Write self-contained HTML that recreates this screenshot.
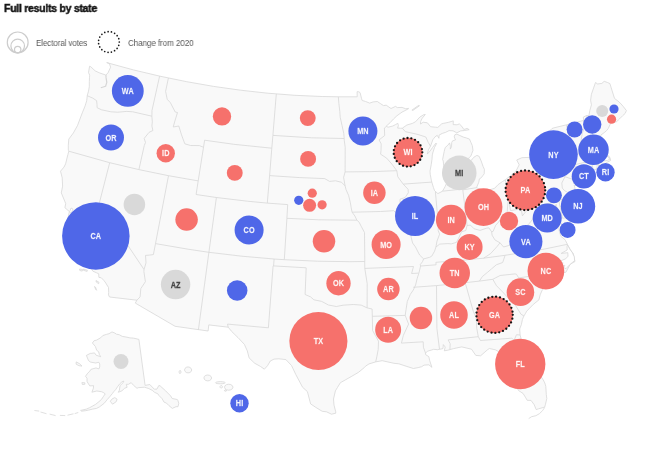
<!DOCTYPE html>
<html><head><meta charset="utf-8"><style>
html,body{margin:0;padding:0;background:#fff;}
body{width:650px;height:456px;position:relative;overflow:hidden;font-family:"Liberation Sans",sans-serif;}
#t{position:absolute;left:3.5px;top:1.2px;font-weight:bold;font-size:11.8px;color:#141414;white-space:nowrap;letter-spacing:-0.3px;transform-origin:0 0;transform:scaleX(0.89);line-height:15px;-webkit-text-stroke:0.45px #141414;will-change:transform}
.lg{position:absolute;font-size:9.4px;color:#5a5a5a;white-space:nowrap;line-height:11px;letter-spacing:-0.15px;transform-origin:0 0;will-change:transform}
svg{position:absolute;left:0;top:0;will-change:transform}
.lb{font-family:"Liberation Sans",sans-serif;font-weight:bold;font-size:8.7px;text-anchor:middle;letter-spacing:0.1px;stroke:currentColor;stroke-width:0.25px}
</style></head><body>
<div id="t">Full results by state</div>
<svg width="650" height="456" viewBox="0 0 650 456">
<g fill="none" stroke="#cdcdcd" stroke-width="1.2">
<circle cx="17.7" cy="42.4" r="10.4"/>
<circle cx="17.7" cy="46" r="6.8"/>
<circle cx="17.7" cy="49.6" r="3.2"/>
</g>
<circle cx="108.9" cy="42" r="10.4" fill="none" stroke="#1a1a1a" stroke-width="1.7" stroke-linecap="round" stroke-dasharray="0 3.42"/>
<path d="M106.7 62.6L133.4 69.9L160.0 76.2L186.7 81.7L213.6 86.4L240.6 90.2L267.7 93.2L294.9 95.3L322.2 96.5L338.3 96.8L357.2 96.8L357.1 91.7L358.9 91.8L360.1 92.7L361.5 98.4L362.2 100.5L365.4 101.4L369.6 103.1L373.2 101.9L377.3 101.5L380.6 103.7L383.5 105.6L386.2 105.2L391.0 108.5L395.5 106.4L397.4 107.6L402.0 107.4L405.8 108.8L408.5 108.3L408.6 108.7L405.0 110.6L402.0 112.1L396.9 115.8L393.6 118.9L390.1 122.7L386.2 126.2L388.1 127.2L392.8 126.0L395.5 124.6L397.8 123.3L398.4 125.6L397.6 128.1L400.5 128.2L402.3 128.2L406.9 125.0L412.4 123.4L415.6 121.7L419.9 117.0L423.9 114.6L425.3 114.5L422.3 118.1L420.7 121.3L420.5 124.0L423.2 122.2L427.4 122.8L430.6 126.7L435.4 127.2L437.8 127.4L441.7 123.8L443.8 123.3L448.2 122.4L453.3 120.9L453.2 124.6L457.1 124.8L459.3 123.9L461.8 126.3L463.9 129.5L467.1 128.4L469.2 129.7L464.5 130.5L460.7 130.9L456.8 132.8L453.0 130.8L449.1 130.6L445.5 132.4L442.3 133.4L439.1 135.1L438.9 138.3L437.2 135.3L435.0 136.9L432.8 139.8L430.5 146.2L428.4 149.9L427.3 154.1L430.0 151.1L432.6 147.4L436.0 143.0L436.6 143.6L434.5 147.5L432.8 152.9L432.3 154.9L432.0 159.2L431.2 164.8L430.0 171.1L430.3 174.8L431.5 180.9L431.8 182.1L433.4 187.4L434.6 190.7L437.9 193.6L442.5 191.2L445.3 186.2L447.1 181.9L447.3 176.6L446.4 173.0L445.4 170.6L443.7 165.6L443.2 160.9L442.6 159.5L444.2 151.4L445.2 147.5L447.9 145.2L449.6 142.9L450.4 146.3L450.3 149.1L451.5 146.8L451.7 142.7L452.5 140.9L455.5 139.9L454.2 136.9L454.9 134.7L456.9 134.1L459.8 135.5L463.4 137.1L466.2 137.9L469.5 139.1L470.9 142.4L472.3 145.6L473.0 150.4L471.9 153.3L470.8 156.2L468.1 158.6L468.7 162.7L471.3 160.3L473.9 157.2L476.9 155.4L479.2 156.4L481.2 161.0L483.0 166.3L484.4 169.3L484.2 173.8L483.0 175.4L481.3 177.7L479.4 178.9L478.8 182.2L476.5 187.7L480.9 189.6L484.6 190.5L488.7 190.1L494.6 188.3L498.1 184.6L502.7 181.4L505.3 179.8L509.1 176.8L512.2 174.6L516.0 171.0L519.2 164.8L516.7 160.0L521.9 157.7L530.9 157.3L536.7 155.9L541.1 152.4L543.7 150.6L542.8 146.5L540.8 143.0L542.8 140.8L545.1 138.3L547.0 133.7L551.9 128.6L553.7 127.9L566.5 124.8L579.0 121.6L583.7 120.4L583.3 117.1L586.6 115.5L588.9 115.6L589.9 110.3L591.4 104.9L590.6 100.2L591.4 94.3L595.5 82.5L597.7 84.0L601.9 83.4L604.2 81.3L607.5 82.5L609.9 83.6L612.2 91.0L614.5 98.4L618.9 101.8L621.1 104.0L623.5 106.8L626.4 110.6L625.1 113.5L622.7 115.7L619.6 118.8L618.4 119.9L616.5 121.9L613.5 122.1L611.0 120.7L610.1 124.5L608.2 128.6L606.7 130.5L604.3 132.6L600.9 135.0L600.7 136.5L600.1 139.5L598.9 142.7L598.2 144.1L597.8 147.0L600.7 149.4L598.7 151.4L597.9 154.4L601.1 156.4L602.8 158.8L604.4 160.9L607.4 160.4L609.6 159.3L608.6 157.2L606.8 156.1L608.6 155.8L610.2 158.2L610.6 160.5L607.6 162.0L604.7 164.0L604.2 164.6L601.5 164.9L599.8 166.0L599.2 166.6L597.3 163.8L597.1 166.8L596.8 168.9L593.3 170.3L590.9 171.1L588.5 172.2L583.1 173.9L579.7 176.9L576.4 179.1L575.8 182.1L578.3 180.1L584.1 177.8L589.4 173.8L594.1 173.7L589.4 177.6L584.2 182.2L579.3 184.3L574.9 185.6L574.1 185.4L574.8 187.3L576.0 196.9L574.0 203.0L569.9 210.1L569.6 206.3L566.2 205.6L562.2 202.3L561.4 201.0L564.1 206.1L566.2 210.6L568.8 212.1L570.3 216.8L570.7 218.4L569.6 222.9L568.9 224.9L567.1 229.5L564.7 236.8L563.8 234.5L564.0 230.2L562.3 224.9L559.9 221.2L556.9 217.6L558.1 213.1L556.5 207.8L556.2 204.3L554.3 207.5L553.4 211.2L555.1 216.5L556.7 221.8L558.8 226.4L559.3 231.2L561.0 236.5L564.9 239.5L565.5 240.5L567.4 244.3L570.5 250.0L573.3 253.6L575.0 261.5L570.2 264.2L565.9 272.2L557.6 274.6L553.1 280.4L552.2 285.5L545.8 286.7L542.4 289.7L540.2 294.8L538.9 299.9L533.3 304.4L529.3 308.5L526.8 311.1L525.5 313.4L523.9 316.0L522.4 319.5L521.4 324.5L519.7 328.9L520.1 335.0L521.4 339.8L523.8 345.6L528.6 354.6L530.1 356.4L535.0 363.9L538.1 371.7L539.4 374.2L543.2 379.8L544.8 383.0L545.8 386.3L546.3 394.5L546.8 398.5L545.5 404.2L544.7 407.1L538.6 408.8L536.2 409.6L534.2 404.7L531.0 400.4L527.2 400.3L525.4 397.2L523.0 393.4L518.6 390.6L515.6 385.6L513.4 383.1L511.0 379.3L509.2 371.3L509.5 364.4L509.1 361.7L504.5 358.9L499.3 352.0L495.4 349.8L489.3 348.5L487.1 350.1L480.6 355.8L475.8 355.4L471.5 349.2L461.7 346.9L453.6 348.6L449.9 349.6L447.8 350.2L444.3 350.8L445.2 347.0L443.3 344.6L443.0 348.6L439.5 349.3L437.7 349.7L433.6 349.3L431.3 350.1L427.8 351.1L425.5 353.0L425.7 354.7L428.8 356.6L429.7 360.6L431.9 367.3L428.8 364.8L424.0 365.1L421.7 366.7L418.2 367.6L413.4 368.5L406.1 366.2L398.8 363.8L394.0 363.3L382.1 360.7L375.7 361.9L369.0 363.9L365.5 366.2L364.3 367.6L358.4 372.4L351.2 376.6L345.2 380.0L340.4 382.7L337.3 387.7L335.4 390.9L333.5 399.0L334.0 405.1L335.6 411.3L335.8 413.2L331.5 414.2L326.5 411.8L322.2 411.3L315.5 407.2L310.6 403.9L307.4 391.6L302.6 387.3L295.9 374.7L291.5 365.5L285.9 359.6L278.8 358.8L274.0 359.1L270.3 361.0L267.6 365.6L264.4 369.2L260.4 366.4L254.6 363.2L249.1 357.9L247.3 350.9L244.4 344.4L238.0 337.6L231.6 331.4L228.2 327.2L208.8 324.9L208.1 331.0L175.1 326.3L135.3 303.1L136.9 300.2L109.5 297.0L108.5 294.9L108.7 292.4L108.5 287.5L105.8 283.1L104.1 280.7L101.3 277.8L98.9 277.4L98.7 273.8L96.6 272.8L92.9 271.2L90.9 268.0L87.0 265.1L78.8 262.4L78.4 255.9L77.7 249.0L74.4 243.9L70.1 233.6L71.2 229.6L71.2 224.4L68.2 220.4L68.4 215.9L69.3 211.8L70.7 212.2L71.7 215.1L72.8 217.9L72.7 215.7L71.8 211.4L73.0 209.2L71.1 208.0L70.1 210.6L69.4 211.6L64.9 207.7L65.7 203.6L61.3 192.9L62.6 186.1L62.2 177.8L60.5 171.2L64.0 167.1L65.6 163.8L67.9 154.5L68.8 151.2L68.3 150.3L68.3 145.3L68.8 139.1L73.4 132.9L77.5 125.5L80.7 117.0L82.3 112.8L84.3 107.9L85.1 105.9L86.7 100.7L87.3 95.4L88.5 91.2L89.3 86.5L89.3 81.5L89.5 77.3L89.7 75.2L88.5 72.6L89.6 66.2L90.7 66.7L95.2 70.9L99.8 73.0L105.9 75.1L108.0 72.8L110.6 67.2L109.3 63.4ZM112.0 331.9L114.9 333.1L116.5 334.2L119.4 334.8L122.3 336.4L126.0 337.0L130.0 337.9L133.4 338.1L138.9 339.4L145.1 385.4L149.8 384.5L154.3 389.2L156.9 389.1L158.9 385.4L160.4 386.1L165.7 390.9L170.6 395.9L172.2 398.5L177.3 399.5L177.9 400.5L178.8 403.3L178.0 406.7L176.0 406.7L172.3 408.4L168.9 405.6L166.5 403.1L164.0 402.1L162.1 398.7L159.0 395.6L157.8 393.8L154.7 392.4L152.2 390.3L148.8 388.6L146.7 387.9L144.4 387.2L138.2 387.7L137.0 388.3L133.5 385.3L131.2 382.7L128.4 384.3L126.3 384.3L127.1 387.3L124.6 388.3L121.9 390.8L118.3 392.3L119.4 390.1L120.0 385.8L122.2 383.4L123.4 382.4L123.8 381.1L121.9 381.9L119.5 384.1L117.5 386.8L115.6 389.7L113.8 391.6L112.4 393.5L110.1 396.3L107.2 399.6L104.2 403.3L99.6 406.8L96.6 408.4L92.2 409.2L88.6 410.1L85.5 410.7L81.6 411.2L80.6 410.4L86.4 409.1L89.6 407.7L92.7 406.0L95.8 404.2L98.9 401.7L101.4 399.5L103.6 396.2L105.2 393.9L103.7 392.7L101.5 391.7L96.8 391.0L91.9 392.2L93.4 388.2L93.6 385.7L89.8 385.9L87.9 383.0L87.0 381.3L87.0 378.2L85.5 376.3L87.7 373.2L89.8 371.2L90.9 369.4L96.0 367.9L98.9 368.9L99.7 367.0L99.7 364.0L98.9 362.3L95.6 363.0L90.5 362.1L88.5 360.6L86.4 355.4L90.3 353.4L91.1 353.4L94.5 352.9L96.1 355.2L100.7 356.7L99.3 354.4L98.6 351.7L96.7 350.3L95.4 346.5L92.4 343.0L94.1 340.7L96.4 340.2L100.6 337.8L102.9 335.5L106.4 334.4L109.0 333.7L112.0 331.9ZM110.3 401.3L112.5 404.2L116.2 401.7L117.1 399.2L114.8 397.6L112.0 399.0ZM76.2 361.9L79.7 363.8L82.0 366.1L79.1 365.7L76.1 364.2ZM81.9 382.6L84.9 382.8L84.8 384.3L82.4 384.5ZM83.4 269.1L87.4 270.3L87.1 271.4L83.4 270.3ZM79.6 269.0L82.6 269.5L82.2 271.1L79.8 270.5ZM96.0 280.5L99.0 282.3L98.7 283.7L96.2 282.0ZM94.5 286.5L95.5 287.2L96.6 290.3L95.6 289.3ZM411.9 110.1L418.9 105.2L419.5 105.8L412.9 110.4ZM180.9 372.0L180.8 371.2L180.5 370.6L180.0 370.4L179.6 370.6L179.2 371.2L179.1 372.0L179.2 372.8L179.5 373.4L180.0 373.6L180.4 373.4L180.8 372.8ZM191.7 370.0L191.2 368.5L189.9 367.4L188.1 366.9L186.3 367.3L185.0 368.4L184.5 369.9L185.0 371.4L186.3 372.5L188.1 372.9L189.9 372.5L191.2 371.5ZM211.6 378.0L211.1 376.5L209.7 375.4L207.8 375.0L205.9 375.3L204.4 376.4L203.9 377.9L204.4 379.4L205.8 380.5L207.8 380.9L209.7 380.5L211.1 379.4ZM225.2 382.7L224.6 382.2L222.8 381.8L220.3 381.6L217.9 381.8L216.1 382.2L215.5 382.7L216.1 383.3L217.9 383.7L220.3 383.8L222.8 383.7L224.6 383.3ZM222.5 386.8L222.4 386.2L221.9 385.7L221.2 385.6L220.6 385.7L220.1 386.2L220.0 386.8L220.1 387.4L220.6 387.9L221.2 388.0L221.9 387.9L222.4 387.4ZM233.0 387.2L232.4 385.7L230.8 384.6L228.7 384.2L226.6 384.6L225.0 385.7L224.5 387.2L225.0 388.7L226.6 389.8L228.7 390.2L230.8 389.8L232.4 388.7ZM226.5 390.6L226.4 390.3L226.0 390.0L225.5 389.9L225.0 390.0L224.6 390.3L224.5 390.6L224.6 391.0L225.0 391.2L225.5 391.3L226.0 391.2L226.4 391.0ZM246.9 403.5L245.9 399.4L243.3 396.4L239.7 395.3L236.2 396.4L233.6 399.5L232.6 403.6L233.6 407.6L236.2 410.6L239.8 411.7L243.4 410.6L245.9 407.6Z" fill="#f9f9f9" stroke="#d6d6d6" stroke-width="0.75" stroke-linejoin="round"/>
<path d="M87.2 95.7L92.9 98.2L96.6 100.7L97.0 104.4L97.1 107.7L101.5 109.8L110.9 111.8L117.7 112.2L126.8 111.4L132.8 111.8L151.9 116.2M151.9 116.2L152.0 110.4L159.6 76.2M151.9 116.2L152.3 121.9L151.9 126.0L152.9 130.5L149.0 132.4L144.2 138.4L145.5 142.5L144.3 145.4L138.9 169.6M68.8 151.2L109.7 162.7L138.9 169.6L168.5 175.7L198.2 180.9M109.7 162.7L99.4 202.8L144.0 269.5M144.0 269.5L146.0 262.9L145.5 255.4L149.4 255.1L153.4 254.6L155.5 243.6M155.5 243.6L168.5 175.7M144.0 269.5L143.9 271.6L145.4 281.7L140.8 288.6L140.1 296.9L136.9 300.2M155.5 243.6L188.0 249.2L208.9 252.3L241.7 256.2L274.1 259.0L284.4 259.7L317.3 261.2L349.8 261.7L364.7 261.5M198.2 180.9L196.1 194.5L216.4 197.5L247.4 201.2L267.3 203.1L287.7 204.6L286.9 218.3M216.4 197.5L208.9 252.3L198.4 329.8M168.4 78.1L165.6 91.3L167.2 99.3L170.4 102.7L175.2 112.0L177.5 112.5L174.9 121.0L173.2 127.0L178.8 126.0L181.5 134.8L184.8 143.8L190.5 145.5L199.4 145.6L203.5 147.3M198.2 180.9L203.5 147.3L204.6 140.2L233.8 144.3L271.8 148.2M276.3 93.9L272.9 135.4L271.8 148.2L269.6 175.6L267.3 203.1M286.9 218.3L284.3 259.7M274.1 259.0L273.6 265.9L273.1 265.9L268.4 327.8L227.5 324.1L228.2 327.2M273.6 265.9L306.2 267.8L305.1 294.5L310.6 296.9L313.9 299.8L321.7 301.4L328.4 305.0L336.3 306.5L343.1 305.2L353.3 304.5L361.2 305.1L367.1 307.9M367.1 307.9L372.1 309.0L372.3 316.3L372.6 330.5L375.5 335.8L378.5 341.2L378.2 349.5L376.9 356.4L375.7 361.9M364.7 261.5L364.8 268.4L367.2 283.6L367.1 307.9M286.9 218.3L318.5 219.8L356.9 220.2M356.9 220.2L359.1 222.2L361.2 226.3L364.5 232.5L364.8 261.5M269.6 175.6L299.8 177.6L324.7 178.6L329.6 181.4L335.6 180.8L341.6 182.3L345.1 185.9M345.1 185.9L346.1 189.8L348.6 195.4L350.4 202.8L351.2 207.8L352.1 212.2L354.9 216.0L356.9 220.2M272.9 135.4L311.4 137.8L344.2 138.5M344.2 138.5L344.2 140.1L345.2 147.2L345.1 171.9L343.6 177.4L345.1 185.9M344.2 138.5L343.8 133.6L342.0 125.4L340.2 117.2L339.8 111.5L338.9 103.6L338.3 96.8M345.1 171.9L369.4 171.7L396.8 170.7M396.8 170.7L391.8 164.0L386.6 158.1L380.6 154.2L381.0 150.7L381.2 143.9L379.1 139.9L384.7 135.5L384.4 128.0L386.2 126.6M396.8 170.7L397.8 176.8L403.2 184.1L408.1 189.3L408.3 192.8L405.1 197.5L400.0 199.2L400.0 207.8L397.0 213.7L397.5 219.9L398.2 223.1L403.2 228.3L410.9 233.4L411.1 237.1L412.6 243.0L415.5 247.0L419.6 255.0L423.6 258.9L422.5 261.7L420.2 264.7L420.6 266.0L418.9 273.1M352.1 212.2L380.6 211.5L393.7 210.7L397.0 213.7M402.3 128.2L405.4 131.7L415.1 133.8L419.0 134.8L425.8 137.0L428.2 142.3L430.5 146.2M403.3 184.1L431.8 182.1M364.8 268.4L413.5 266.5L411.6 273.5L418.6 273.1M418.9 273.1L417.1 278.7L415.6 285.0L413.3 290.0L410.3 294.4L407.3 301.4L406.0 309.8L405.2 315.4L408.6 324.1L403.4 335.3L401.4 343.1L423.2 341.8L423.4 347.3L425.5 353.0M372.3 316.3L405.2 315.4M436.5 285.6L436.9 328.4L439.5 349.3M413.2 287.3L436.5 285.6L465.2 282.7L479.4 281.1L492.8 279.3M465.2 282.7L473.3 311.4L476.1 317.6L476.8 328.6L478.3 336.7M478.3 336.7L448.1 339.9L450.2 343.8L449.9 349.6M478.3 336.7L480.4 340.5L511.7 338.2L514.1 340.2L516.5 334.7L520.1 335.0M492.8 279.3L496.5 285.7L502.5 291.8L508.7 298.6L514.7 304.0L520.9 314.1L523.9 316.0M492.8 279.3L500.1 275.5L515.1 273.9L516.5 274.3L518.7 277.9L531.0 276.1L545.8 286.7M479.4 281.1L482.4 276.5L487.4 272.4L491.4 269.0L496.3 264.8L502.7 262.5L505.1 255.3M505.1 255.3L544.7 249.0L567.4 244.3M505.1 255.3L483.5 258.2L458.4 260.6L435.9 262.3L436.1 264.8L420.6 266.0M483.5 258.2L490.4 253.8L497.0 246.6L500.0 242.8L494.9 239.9L492.1 235.2L491.6 231.7M508.4 198.1L508.1 201.5L507.6 206.2L507.2 212.1L504.2 216.1L500.8 218.5L498.7 221.9L495.7 225.3L493.1 231.4L491.6 231.7L488.9 227.9L486.8 228.1L480.1 230.4L474.1 228.8L470.4 225.1L467.1 225.5L465.8 230.5L461.6 231.7L458.6 238.3L456.4 242.4L451.2 243.9L447.9 243.6L439.7 244.1L435.9 247.1L434.6 251.1L431.8 256.1L429.7 257.3L423.6 258.9M435.4 191.9L438.4 225.1L438.2 230.6L439.6 234.2L437.0 241.1L435.9 247.1M462.8 189.8L467.1 225.5M442.5 191.2L462.9 189.0L463.0 189.8L476.5 187.7M505.3 179.8L508.4 198.1L510.5 210.6M510.5 210.6L521.2 208.8L546.6 203.9L558.9 201.3M512.2 174.6L512.9 178.3L540.2 173.1L556.4 169.6M556.4 169.6L559.6 171.7L565.0 176.7L561.8 183.0L562.3 188.1L564.4 190.5L567.8 192.5L566.1 195.7L564.9 196.7L562.6 199.1L561.4 201.0M565.0 176.7L574.0 179.9L573.8 184.0M558.9 201.3L560.1 199.9L562.6 199.1M558.9 201.3L562.6 218.3L570.3 216.8M569.6 222.9L565.6 224.9L563.3 225.4M521.2 208.8L522.4 215.9L525.7 211.7L528.4 209.1L532.5 208.4L534.3 206.6L539.0 208.5L540.3 210.8L542.9 212.0L548.3 215.1L550.2 221.8L555.1 224.3L558.8 226.4M540.3 210.8L537.8 213.7L534.6 216.4L529.9 222.9L526.2 226.4L523.0 229.8L520.3 235.9L517.8 240.5L512.3 243.5L508.8 245.5L503.6 247.0L500.0 242.8M566.5 124.8L567.6 131.7L570.5 141.6L572.0 143.8L574.6 154.7M574.6 154.7L574.6 164.7L576.5 174.9L576.4 179.1M574.6 154.7L582.5 153.1L593.8 150.5L597.3 147.2M582.5 153.1L580.0 147.0L581.0 141.1L582.2 133.7L584.5 127.4L583.7 120.4M586.6 115.5L592.2 132.4L594.5 141.8L598.2 144.1M574.6 164.7L591.3 160.9L595.4 159.8L595.8 161.4L599.8 166.0M591.3 160.9L593.3 170.3M78.3 412.5L74.7 413.6M73.5 413.8L67.5 415.2M65.2 415.6L59.9 415.4M55.6 415.6L49.6 414.1M46.5 413.7L40.5 412.0M39.2 411.1L34.4 410.5" fill="none" stroke="#d6d6d6" stroke-width="0.75" stroke-linejoin="round"/>
<path d="M567.4 245.0L569.9 249.4L572.2 252.4L574.3 256.9L574.6 260.7L572.2 262.6L569.3 265.1L566.1 268.6L563.6 267.7L564.8 265.3L559.9 266.4L563.2 262.9L558.9 261.6L565.7 258.8L568.0 256.2L567.8 252.7L561.2 253.4L567.2 250.0L567.0 246.5Z" fill="#fff" stroke="#d6d6d6" stroke-width="0.75" stroke-linejoin="round"/>
<path d="M544.7 407.4L542.7 410.5L539.4 413.7L535.9 415.7L531.6 416.7L528.7 418.6" fill="none" stroke="#d6d6d6" stroke-width="0.75"/>
<path d="M105.9 75.1L106.1 77.9L106.8 82.4L105.6 86.3L100.8 87.8" fill="none" stroke="#d6d6d6" stroke-width="1.2" stroke-linejoin="round"/>
<circle cx="127.8" cy="90.9" r="15.91" fill="#4f67e8"/>
<circle cx="111" cy="137.5" r="12.99" fill="#4f67e8"/>
<circle cx="165.75" cy="153.25" r="9.19" fill="#f6716c"/>
<circle cx="222" cy="116.4" r="9.19" fill="#f6716c"/>
<circle cx="234.75" cy="172.9" r="7.96" fill="#f6716c"/>
<circle cx="307.75" cy="118.1" r="7.96" fill="#f6716c"/>
<circle cx="308.1" cy="158.9" r="7.96" fill="#f6716c"/>
<circle cx="298.75" cy="200.3" r="4.59" fill="#4f67e8"/>
<circle cx="312.25" cy="193.2" r="4.59" fill="#f6716c"/>
<circle cx="309.6" cy="205.3" r="6.50" fill="#f6716c"/>
<circle cx="322.1" cy="204.8" r="4.59" fill="#f6716c"/>
<circle cx="95.85" cy="235.9" r="33.75" fill="#4f67e8"/>
<circle cx="134.4" cy="204.4" r="10.75" fill="#d9d9d9"/>
<circle cx="186.6" cy="219.6" r="11.25" fill="#f6716c"/>
<circle cx="249.1" cy="229.95" r="14.52" fill="#4f67e8"/>
<circle cx="175.6" cy="284.6" r="14.73" fill="#d9d9d9"/>
<circle cx="237.2" cy="290.5" r="10.27" fill="#4f67e8"/>
<circle cx="324" cy="241.3" r="11.25" fill="#f6716c"/>
<circle cx="338.5" cy="283.25" r="12.15" fill="#f6716c"/>
<circle cx="318.4" cy="341" r="29.05" fill="#f6716c"/>
<circle cx="362.9" cy="131.05" r="14.52" fill="#4f67e8"/>
<circle cx="408" cy="152.3" r="14.52" fill="#f6716c"/>
<circle cx="408" cy="152.3" r="14.32" fill="none" stroke="#161616" stroke-width="2.3" stroke-linecap="round" stroke-dasharray="0 3.913"/>
<circle cx="459.25" cy="172.9" r="17.29" fill="#d9d9d9"/>
<circle cx="374.4" cy="192.7" r="11.25" fill="#f6716c"/>
<circle cx="386.1" cy="244.6" r="14.52" fill="#f6716c"/>
<circle cx="415.05" cy="215.95" r="20.02" fill="#4f67e8"/>
<circle cx="388.4" cy="289.1" r="11.25" fill="#f6716c"/>
<circle cx="388.15" cy="329.75" r="12.99" fill="#f6716c"/>
<circle cx="420.95" cy="317.95" r="11.25" fill="#f6716c"/>
<circle cx="454" cy="315" r="13.78" fill="#f6716c"/>
<circle cx="494.6" cy="314.8" r="18.37" fill="#f6716c"/>
<circle cx="494.6" cy="314.8" r="18.17" fill="none" stroke="#161616" stroke-width="2.3" stroke-linecap="round" stroke-dasharray="0 3.937"/>
<circle cx="520.25" cy="364" r="25.16" fill="#f6716c"/>
<circle cx="520.45" cy="292.15" r="13.78" fill="#f6716c"/>
<circle cx="545.9" cy="271.1" r="18.37" fill="#f6716c"/>
<circle cx="454.75" cy="273.1" r="15.23" fill="#f6716c"/>
<circle cx="469.6" cy="246.9" r="12.99" fill="#f6716c"/>
<circle cx="451.15" cy="220.1" r="15.23" fill="#f6716c"/>
<circle cx="483.5" cy="207.1" r="18.94" fill="#f6716c"/>
<circle cx="509" cy="221.0" r="9.19" fill="#f6716c"/>
<circle cx="525.9" cy="241.6" r="16.56" fill="#4f67e8"/>
<circle cx="547.2" cy="218.1" r="14.52" fill="#4f67e8"/>
<circle cx="567.6" cy="229.95" r="7.96" fill="#4f67e8"/>
<circle cx="578" cy="206.25" r="17.19" fill="#4f67e8"/>
<circle cx="525.4" cy="190.3" r="20.02" fill="#f6716c"/>
<circle cx="525.4" cy="190.3" r="19.82" fill="none" stroke="#161616" stroke-width="2.3" stroke-linecap="round" stroke-dasharray="0 4.017"/>
<circle cx="553.95" cy="195.35" r="7.96" fill="#4f67e8"/>
<circle cx="553.45" cy="154.6" r="24.30" fill="#4f67e8"/>
<circle cx="574.6" cy="129.5" r="7.96" fill="#4f67e8"/>
<circle cx="592.2" cy="124.55" r="9.19" fill="#4f67e8"/>
<circle cx="593.5" cy="149.65" r="15.23" fill="#4f67e8"/>
<circle cx="583.85" cy="176.35" r="12.15" fill="#4f67e8"/>
<circle cx="605.5" cy="172.2" r="9.19" fill="#4f67e8"/>
<circle cx="602.2" cy="111.0" r="6.00" fill="#d9d9d9"/>
<circle cx="614.0" cy="109" r="4.59" fill="#4f67e8"/>
<circle cx="611.55" cy="119.15" r="4.59" fill="#f6716c"/>
<circle cx="121" cy="361.5" r="7.46" fill="#d9d9d9"/>
<circle cx="239.5" cy="403.3" r="9.19" fill="#4f67e8"/>
<text transform="translate(127.80 94.00) scale(0.84 1)" class="lb" fill="#fff" style="color:#fff" fill-opacity="0.92" stroke-opacity="0.5">WA</text>
<text transform="translate(111.00 140.60) scale(0.84 1)" class="lb" fill="#fff" style="color:#fff" fill-opacity="0.92" stroke-opacity="0.5">OR</text>
<text transform="translate(165.75 156.35) scale(0.84 1)" class="lb" fill="#fff" style="color:#fff" fill-opacity="0.92" stroke-opacity="0.5">ID</text>
<text transform="translate(95.85 239.00) scale(0.84 1)" class="lb" fill="#fff" style="color:#fff" fill-opacity="0.92" stroke-opacity="0.5">CA</text>
<text transform="translate(249.10 233.05) scale(0.84 1)" class="lb" fill="#fff" style="color:#fff" fill-opacity="0.92" stroke-opacity="0.5">CO</text>
<text transform="translate(175.60 287.70) scale(0.84 1)" class="lb" fill="#444" style="color:#444">AZ</text>
<text transform="translate(338.50 286.35) scale(0.84 1)" class="lb" fill="#fff" style="color:#fff" fill-opacity="0.92" stroke-opacity="0.5">OK</text>
<text transform="translate(318.40 344.10) scale(0.84 1)" class="lb" fill="#fff" style="color:#fff" fill-opacity="0.92" stroke-opacity="0.5">TX</text>
<text transform="translate(362.90 134.15) scale(0.84 1)" class="lb" fill="#fff" style="color:#fff" fill-opacity="0.92" stroke-opacity="0.5">MN</text>
<text transform="translate(408.00 155.40) scale(0.84 1)" class="lb" fill="#fff" style="color:#fff" fill-opacity="0.92" stroke-opacity="0.5">WI</text>
<text transform="translate(459.25 176.00) scale(0.84 1)" class="lb" fill="#444" style="color:#444">MI</text>
<text transform="translate(374.40 195.80) scale(0.84 1)" class="lb" fill="#fff" style="color:#fff" fill-opacity="0.92" stroke-opacity="0.5">IA</text>
<text transform="translate(386.10 247.70) scale(0.84 1)" class="lb" fill="#fff" style="color:#fff" fill-opacity="0.92" stroke-opacity="0.5">MO</text>
<text transform="translate(415.05 219.05) scale(0.84 1)" class="lb" fill="#fff" style="color:#fff" fill-opacity="0.92" stroke-opacity="0.5">IL</text>
<text transform="translate(388.40 292.20) scale(0.84 1)" class="lb" fill="#fff" style="color:#fff" fill-opacity="0.92" stroke-opacity="0.5">AR</text>
<text transform="translate(388.15 332.85) scale(0.84 1)" class="lb" fill="#fff" style="color:#fff" fill-opacity="0.92" stroke-opacity="0.5">LA</text>
<text transform="translate(454.00 318.10) scale(0.84 1)" class="lb" fill="#fff" style="color:#fff" fill-opacity="0.92" stroke-opacity="0.5">AL</text>
<text transform="translate(494.60 317.90) scale(0.84 1)" class="lb" fill="#fff" style="color:#fff" fill-opacity="0.92" stroke-opacity="0.5">GA</text>
<text transform="translate(520.25 367.10) scale(0.84 1)" class="lb" fill="#fff" style="color:#fff" fill-opacity="0.92" stroke-opacity="0.5">FL</text>
<text transform="translate(520.45 295.25) scale(0.84 1)" class="lb" fill="#fff" style="color:#fff" fill-opacity="0.92" stroke-opacity="0.5">SC</text>
<text transform="translate(545.90 274.20) scale(0.84 1)" class="lb" fill="#fff" style="color:#fff" fill-opacity="0.92" stroke-opacity="0.5">NC</text>
<text transform="translate(454.75 276.20) scale(0.84 1)" class="lb" fill="#fff" style="color:#fff" fill-opacity="0.92" stroke-opacity="0.5">TN</text>
<text transform="translate(469.60 250.00) scale(0.84 1)" class="lb" fill="#fff" style="color:#fff" fill-opacity="0.92" stroke-opacity="0.5">KY</text>
<text transform="translate(451.15 223.20) scale(0.84 1)" class="lb" fill="#fff" style="color:#fff" fill-opacity="0.92" stroke-opacity="0.5">IN</text>
<text transform="translate(483.50 210.20) scale(0.84 1)" class="lb" fill="#fff" style="color:#fff" fill-opacity="0.92" stroke-opacity="0.5">OH</text>
<text transform="translate(525.90 244.70) scale(0.84 1)" class="lb" fill="#fff" style="color:#fff" fill-opacity="0.92" stroke-opacity="0.5">VA</text>
<text transform="translate(547.20 221.20) scale(0.84 1)" class="lb" fill="#fff" style="color:#fff" fill-opacity="0.92" stroke-opacity="0.5">MD</text>
<text transform="translate(578.00 209.35) scale(0.84 1)" class="lb" fill="#fff" style="color:#fff" fill-opacity="0.92" stroke-opacity="0.5">NJ</text>
<text transform="translate(525.40 193.40) scale(0.84 1)" class="lb" fill="#fff" style="color:#fff" fill-opacity="0.92" stroke-opacity="0.5">PA</text>
<text transform="translate(553.45 157.70) scale(0.84 1)" class="lb" fill="#fff" style="color:#fff" fill-opacity="0.92" stroke-opacity="0.5">NY</text>
<text transform="translate(593.50 152.75) scale(0.84 1)" class="lb" fill="#fff" style="color:#fff" fill-opacity="0.92" stroke-opacity="0.5">MA</text>
<text transform="translate(583.85 179.45) scale(0.84 1)" class="lb" fill="#fff" style="color:#fff" fill-opacity="0.92" stroke-opacity="0.5">CT</text>
<text transform="translate(605.50 175.30) scale(0.84 1)" class="lb" fill="#fff" style="color:#fff" fill-opacity="0.92" stroke-opacity="0.5">RI</text>
<text transform="translate(239.50 406.40) scale(0.84 1)" class="lb" fill="#fff" style="color:#fff" fill-opacity="0.92" stroke-opacity="0.5">HI</text>
</svg>
<div class="lg" style="left:35.5px;top:37px;transform:scaleX(0.862)">Electoral votes</div>
<div class="lg" style="left:127.5px;top:37px;transform:scaleX(0.87)">Change from 2020</div>
</body></html>
